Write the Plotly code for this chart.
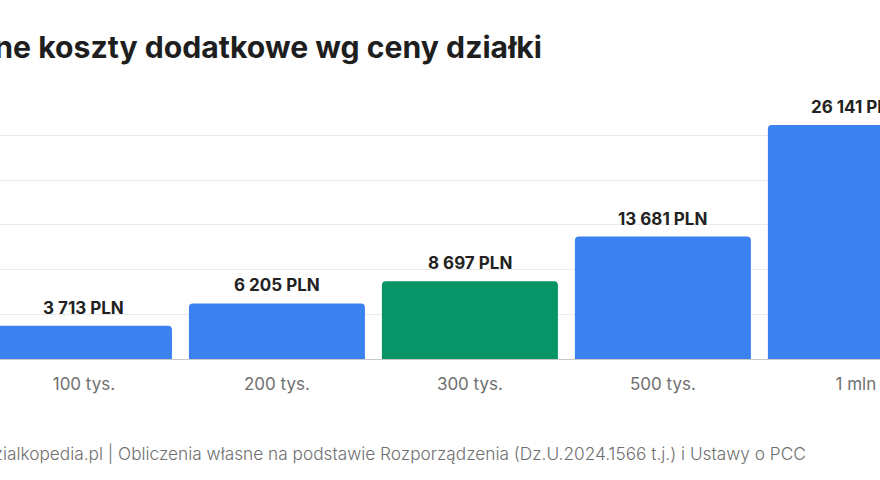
import plotly.graph_objects as go

categories = ["100 tys.", "200 tys.", "300 tys.", "500 tys.", "1 mln"]
values = [3713, 6205, 8697, 13681, 26141]
labels = ["3 713 PLN", "6 205 PLN", "8 697 PLN", "13 681 PLN", "26 141 PLN"]
colors = ["#3b82f0", "#3b82f0", "#079467", "#3b82f0", "#3b82f0"]

title_text = "Łączne koszty dodatkowe wg ceny działki"
footer_text = "Źródło: dzialkopedia.pl | Obliczenia własne na podstawie Rozporządzenia (Dz.U.2024.1566 t.j.) i Ustawy o PCC"

W, H = 880, 480
xs = list(range(len(categories)))
fig = go.Figure(go.Bar(
    x=xs,
    y=values,
    marker=dict(color=colors, line=dict(width=0)),
    width=0.912,
    hoverinfo="skip",
))

value_annotations = [
    dict(text=lab, x=xi, y=v, xref="x", yref="y", xanchor="center", yanchor="bottom",
         yshift=6, showarrow=False,
         font=dict(family="Inter", size=17, color="#222222", weight=700))
    for xi, v, lab in zip(xs, values, labels)
]

fig.update_layout(
    width=W, height=H,
    margin=dict(l=0, r=0, t=90, b=121),
    paper_bgcolor="white",
    plot_bgcolor="white",
    showlegend=False,
    barcornerradius=4,
    font=dict(family="Inter"),
    xaxis=dict(
        range=[-0.435, 4.125],
        tickmode="array",
        tickvals=xs,
        ticktext=categories,
        tickfont=dict(family="Inter", size=17, color="#707070"),
        showgrid=False,
        showline=True, linecolor="#c8c8c8", linewidth=1,
        ticks="", ticklabelstandoff=10,
        zeroline=False,
    ),
    yaxis=dict(
        range=[0, 30060],
        tickvals=[5000, 10000, 15000, 20000, 25000, 30000],
        showgrid=True, gridcolor="#ebebeb", gridwidth=1,
        showticklabels=False,
        zeroline=False,
        showline=False,
    ),
    annotations=value_annotations + [
        dict(text=title_text, xref="paper", yref="paper",
             x=544 / W, y=1 + (90 - 47) / 269, xanchor="right", yanchor="middle",
             showarrow=False,
             font=dict(family="Inter", size=30.2, color="#1e1e1e", weight=700)),
        dict(text=footer_text, xref="paper", yref="paper",
             x=808 / W, y=-(453 - 359) / 269, xanchor="right", yanchor="middle",
             showarrow=False,
             font=dict(family="Inter", size=17.25, color="#707070", weight=300)),
    ],
)

fig.write_html("out.html", config={"displayModeBar": False},
               post_script="document.body.style.margin='0';document.body.style.overflow='hidden';")
